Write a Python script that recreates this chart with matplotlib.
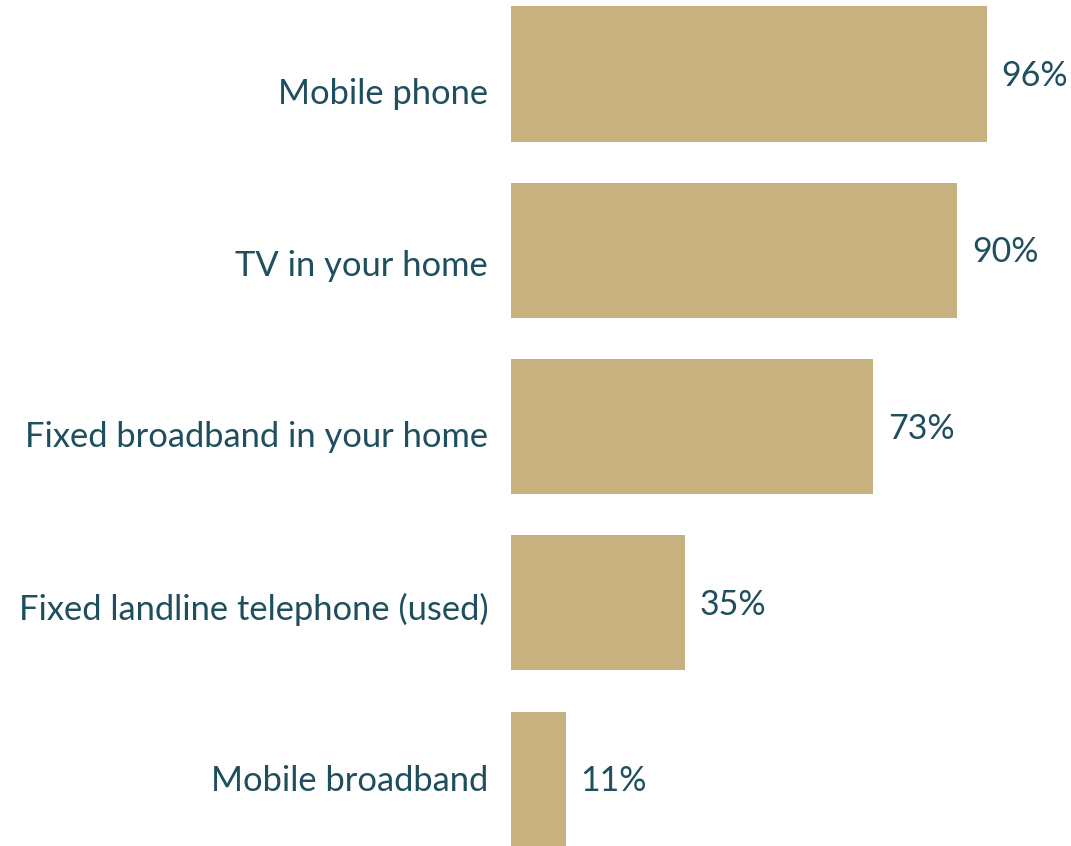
import matplotlib.pyplot as plt

categories = ['Mobile phone', 'TV in your home', 'Fixed broadband in your home',
              'Fixed landline telephone (used)', 'Mobile broadband']
values = [96, 90, 73, 35, 11]

bar_color = '#C7B27F'
text_color = '#1F4E5F'
plt.rcParams['font.family'] = ['Lato', 'DejaVu Sans']

W, H = 1071, 846
fig = plt.figure(figsize=(W / 100, H / 100), dpi=100)

# bars: left edge at x=511px, 100% spans 496px
ax = fig.add_axes([511 / W, 0, 496 / W, 1])
pos = list(range(len(categories)))
ax.barh(pos, values, height=0.766, color=bar_color)
ax.set_xlim(0, 100)
ax.set_ylim((H - 74) / 176.3, -74 / 176.3)
ax.axis('off')

for p, v in zip(pos, values):
    ax.annotate(f'{v}%', (v, p), xytext=(10.5, -1.5), textcoords='offset points',
                va='center', ha='left', fontsize=24.5, color=text_color,
                annotation_clip=False)

# category labels sit on their own axis with slightly tighter spacing
lab = fig.add_axes([511 / W, 0, 496 / W, 1])
lab.patch.set_visible(False)
lab.set_ylim((H - 91) / 171.75, -91 / 171.75)
lab.set_yticks(pos)
lab.set_yticklabels(categories, fontsize=24.8, color=text_color)
lab.tick_params(axis='y', length=0, pad=16.5)
lab.set_xticks([])
for s in lab.spines.values():
    s.set_visible(False)

fig.savefig('out.png', dpi=100)
